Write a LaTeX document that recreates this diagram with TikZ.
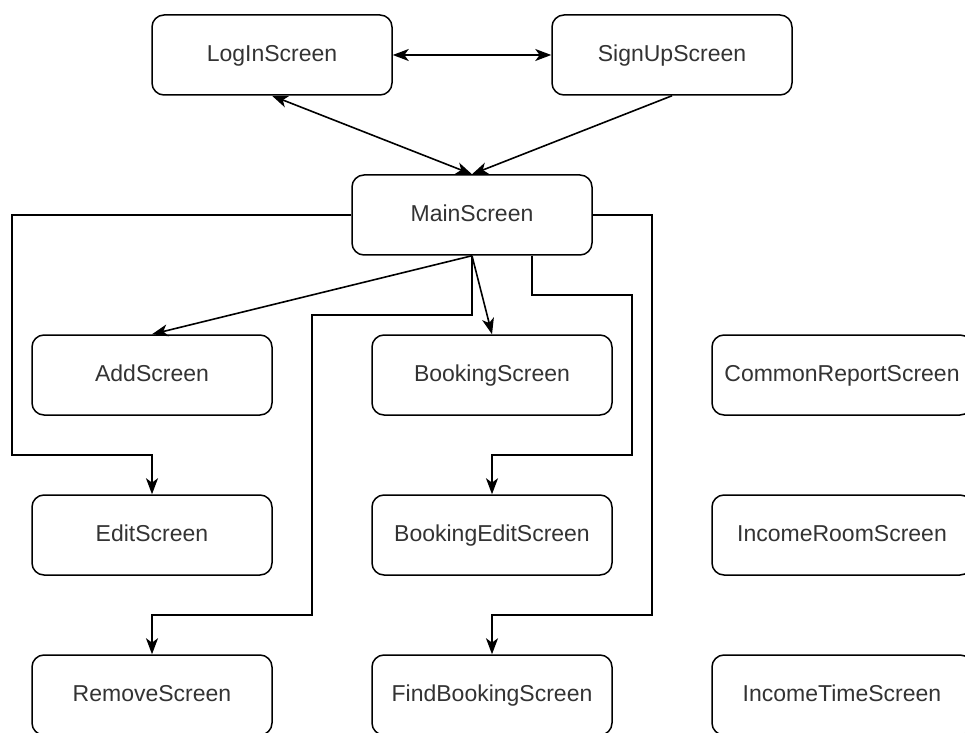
\documentclass[tikz,border=0pt]{standalone}
\usepackage{fontspec}
\setmainfont{Liberation Sans}
\usetikzlibrary{arrows.meta,calc}
\begin{document}
\begin{tikzpicture}[x=0.5pt,y=-0.5pt,
  box/.style={draw=black,line width=0.75pt,rounded corners=6pt,minimum width=120pt,minimum height=40pt,inner sep=0pt,text height=1.6ex,text depth=0.45ex,font=\fontsize{11.5}{14}\selectfont,text=black!80},
  widebox/.style={box,minimum width=130pt},
  conn/.style={line width=0.8pt,-{Stealth[length=8pt,width=6pt,inset=2.2pt]}},
  conntwo/.style={line width=0.8pt,{Stealth[length=8pt,width=6pt,inset=2.2pt]}-{Stealth[length=8pt,width=6pt,inset=2.2pt]}},
  ]
\useasboundingbox (0,0) rectangle (965,733);
\clip (0,0) rectangle (965,733);
\fill[white] (0,0) rectangle (965,733);
\node[box] (login) at (272,55) {LogInScreen};
\node[box] (signup) at (672,55) {SignUpScreen};
\node[box] (main) at (472,215) {MainScreen};
\node[box] (add) at (152,375) {AddScreen};
\node[box] (booking) at (492,375) {BookingScreen};
\node[widebox] (common) at (842,375) {CommonReportScreen};
\node[box] (edit) at (152,535) {EditScreen};
\node[box] (bookedit) at (492,535) {BookingEditScreen};
\node[widebox] (incroom) at (842,535) {IncomeRoomScreen};
\node[box] (remove) at (152,695) {RemoveScreen};
\node[box] (findb) at (492,695) {FindBookingScreen};
\node[widebox] (inctime) at (842,695) {IncomeTimeScreen};

\draw[conntwo] (login) -- (signup);
\draw[conntwo] (login.south) -- (main.north);
\draw[conn] (signup.south) -- (main.north);
\draw[conn] (main.south) -- (add.north);
\draw[conn] (main.south) -- (booking.north);
\draw[conn] (main.west) -| (12,455) -| (edit.north);
\draw[conn] (main.south) -- (472,315) -| (312,615) -| (remove.north);
\draw[conn] ($(main.south)+(60,0)$) |- (632,295) |- (492,455) -- (bookedit.north);
\draw[conn] (main.east) -| (652,615) -| (findb.north);
\end{tikzpicture}
\end{document}
